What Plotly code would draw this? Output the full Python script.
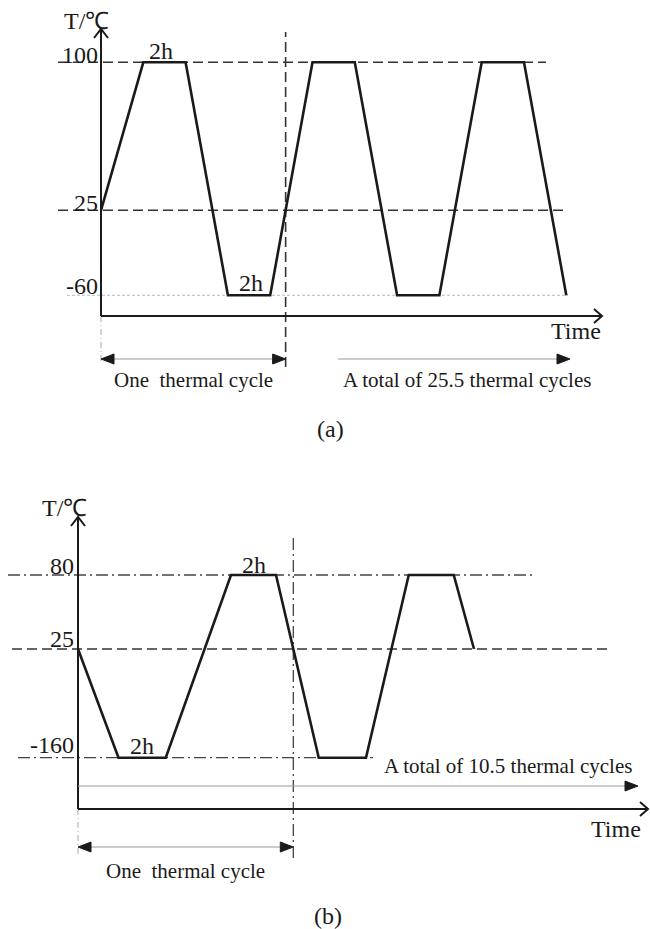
import numpy as np
import plotly.graph_objects as go

# ---------------- data ----------------
# (a) start at 25 degC, cycle between 100 and -60 degC, 2 h dwell at each extreme
time_a = [0, 2, 4, 6, 8, 10, 12, 14, 16, 18, 20, 22]            # h (schematic)
temp_a = [25, 100, 100, -60, -60, 100, 100, -60, -60, 100, 100, -60]
levels_a = [-60, 25, 100]
level_labels_a = ["-60", "25", "100"]

# (b) start at 25 degC, cycle between -160 and 80 degC, 2 h dwell at each extreme
time_b = [0, 1.8, 3.9, 6.8, 8.8, 10.7, 12.8, 14.7, 16.7, 17.6]   # h (schematic)
temp_b = [25, -160, -160, 80, 80, -160, -160, 80, 80, 25]
levels_b = [-160, 25, 80]
level_labels_b = ["-160", "25", "80"]

dwell_label = "2h"
cycle_label = "One  thermal cycle"
total_labels = ["A total of 25.5 thermal cycles", "A total of 10.5 thermal cycles"]
panel_tags = ["(a)", "(b)"]

# ---------------- page geometry ----------------
W, H = 650, 929
SERIF = "Liberation Serif, Times New Roman, serif"
INK = "#1a1a1a"


class Panel:
    """One schematic temperature-time diagram with its own pair of axes.

    The temperature axis is schematic: the labelled levels are spaced by
    `pos` (25 degC at 0, the top level at 1) rather than linearly.
    """

    def __init__(self, n, band, x0, sx, y0, sy, levels, pos):
        self.xa = "x" if n == 1 else f"x{n}"
        self.ya = "y" if n == 1 else f"y{n}"
        self.band = band          # (top px, bottom px) of the panel on the page
        self.x0, self.sx = x0, sx  # page px of t = 0, px per hour
        self.y0, self.sy = y0, sy  # page px of the 25 degC level, px per unit
        self.levels, self.pos = levels, pos

    def X(self, px):
        return (px - self.x0) / self.sx

    def Y(self, py):
        return (self.y0 - py) / self.sy

    def T(self, temp):
        return np.interp(temp, self.levels, self.pos)

    def xrange(self):
        return [self.X(0), self.X(W)]

    def yrange(self):
        return [self.Y(self.band[1]), self.Y(self.band[0])]

    def ydomain(self):
        return [1 - self.band[1] / H, 1 - self.band[0] / H]


pa = Panel(1, (0, 465), 101, 21.15, 210.3, 148, levels_a, [-0.574, 0.0, 1.0])
pb = Panel(2, (465, 929), 78, 22.5, 649, 74, levels_b, [-1.469, 0.0, 1.0])

fig = go.Figure()
annotations = []


def line(p, xs, ys, color, width, dash="solid"):
    fig.add_trace(go.Scatter(x=xs, y=ys, mode="lines", xaxis=p.xa, yaxis=p.ya,
                             line=dict(color=color, width=width, dash=dash),
                             hoverinfo="skip", showlegend=False))


def head(p, tip_px, tip_py, direction, length=13, half=5, color=INK):
    """Filled triangular arrow head, drawn in page pixels."""
    d = 1 if direction == "right" else -1
    px = [tip_px, tip_px - d * length, tip_px - d * length, tip_px]
    py = [tip_py, tip_py - half, tip_py + half, tip_py]
    fig.add_trace(go.Scatter(x=[p.X(v) for v in px], y=[p.Y(v) for v in py],
                             mode="lines", fill="toself", fillcolor=color,
                             xaxis=p.xa, yaxis=p.ya, line=dict(color=color, width=1),
                             hoverinfo="skip", showlegend=False))


def chevron(p, tip_px, tip_py, direction, a=8, b=7):
    """Open arrow tip at the end of an axis."""
    if direction == "up":
        px = [tip_px - b, tip_px, tip_px + b]
        py = [tip_py + a + 1, tip_py, tip_py + a + 1]
    else:
        px = [tip_px - a, tip_px, tip_px - a]
        py = [tip_py - b, tip_py, tip_py + b]
    line(p, [p.X(v) for v in px], [p.Y(v) for v in py], INK, 2)


def text(p, s, x, y, size=21, xanchor="center"):
    annotations.append(dict(text=s, x=x, y=y, xref=p.xa, yref=p.ya,
                            xanchor=xanchor, yanchor="middle", showarrow=False,
                            font=dict(family=SERIF, size=size, color=INK)))


def second_crossing(t, y):
    """Time at which the curve crosses 25 degC for the second time (end of one cycle)."""
    hits = []
    for i in range(len(t) - 1):
        if y[i] * y[i + 1] < 0:
            hits.append(t[i] + (0 - y[i]) / (y[i + 1] - y[i]) * (t[i + 1] - t[i]))
    return hits[1]


DASH = "10px,5px"
DASHDOT = "12px,4px,2px,4px"

# =============== panel (a) ===============
p = pa
ya = p.T(temp_a)
t_cycle = second_crossing(time_a, ya)

# reference levels
line(p, [p.X(58), p.X(546)], [p.T(100)] * 2, "#333", 1.6, DASH)
line(p, [p.X(58), p.X(568)], [p.T(25)] * 2, "#333", 1.6, DASH)
line(p, [p.X(67), p.X(568)], [p.T(-60)] * 2, "#bbbbbb", 1, "3px,2px")
# end of the first cycle
line(p, [t_cycle] * 2, [p.Y(367), p.Y(32)], "#333", 1.6, DASH)
line(p, [0, 0], [p.Y(316), p.Y(362)], "#aaaaaa", 1, "6px,3px,1px,3px")

# axes
line(p, [0, 0], [p.Y(316), p.Y(30)], INK, 2)
chevron(p, 101, 29, "up")
line(p, [0, p.X(601)], [p.Y(316)] * 2, INK, 2)
chevron(p, 602, 316, "right")

# temperature profile
line(p, time_a, ya, INK, 2.6)

# one-cycle span and total-cycles arrow
line(p, [p.X(110), t_cycle - 12 / p.sx], [p.Y(359)] * 2, "#999999", 1)
head(p, 101, 359, "left")
head(p, p.x0 + t_cycle * p.sx, 359, "right")
line(p, [p.X(338), p.X(560)], [p.Y(359)] * 2, "#999999", 1)
head(p, 570, 359, "right")

# labels
for lv, lab, cy in zip(levels_a, level_labels_a, [286, 203, 55]):
    text(p, lab, p.X(100), p.Y(cy), 24, "right")
text(p, "T/\u2103", p.X(86), p.Y(21), 24)
text(p, dwell_label, p.X(161), p.Y(51), 24)
text(p, dwell_label, p.X(251), p.Y(283), 24)
text(p, "Time", p.X(576), p.Y(331), 24)
text(p, cycle_label, (0 + t_cycle) / 2, p.Y(380), 21)
text(p, total_labels[0], p.X(467), p.Y(380), 21)
text(p, panel_tags[0], p.X(330), p.Y(429), 24)

# =============== panel (b) ===============
p = pb
yb = p.T(temp_b)
t_cycle = second_crossing(time_b, yb)

line(p, [p.X(8), p.X(533)], [p.T(80)] * 2, "#444", 1.3, DASHDOT)
line(p, [p.X(12), p.X(607)], [p.T(25)] * 2, "#333", 1.6, DASH)
line(p, [p.X(18), p.X(373)], [p.T(-160)] * 2, "#444", 1.3, DASHDOT)
line(p, [t_cycle] * 2, [p.Y(858), p.Y(538)], "#444", 1.3, DASHDOT)
line(p, [0, 0], [p.Y(809), p.Y(857)], "#aaaaaa", 1, "6px,3px,1px,3px")

line(p, [0, 0], [p.Y(809), p.Y(518)], INK, 2)
chevron(p, 78, 517, "up")
line(p, [0, p.X(647)], [p.Y(809)] * 2, INK, 2)
chevron(p, 648, 809, "right")

line(p, time_b, yb, INK, 2.6)

line(p, [0, p.X(628)], [p.Y(786)] * 2, "#999999", 1)
head(p, 638, 786, "right")
line(p, [p.X(87), t_cycle - 12 / p.sx], [p.Y(847)] * 2, "#999999", 1)
head(p, 78, 847, "left")
head(p, p.x0 + t_cycle * p.sx, 847, "right")

for lv, lab, cy in zip(levels_b, level_labels_b, [745, 639, 566]):
    text(p, lab, p.X(76), p.Y(cy), 24, "right")
text(p, "T/\u2103", p.X(64), p.Y(508), 24)
text(p, dwell_label, p.X(142), p.Y(746), 24)
text(p, dwell_label, p.X(254), p.Y(565), 24)
text(p, total_labels[1], p.X(508), p.Y(766), 21)
text(p, "Time", p.X(616), p.Y(829), 24)
text(p, cycle_label, (0 + t_cycle) / 2, p.Y(871), 21)
text(p, panel_tags[1], p.X(328), p.Y(916), 24)

# =============== layout ===============
hidden = dict(visible=False, showgrid=False, zeroline=False, fixedrange=True)
fig.update_layout(
    width=W, height=H,
    margin=dict(l=0, r=0, t=0, b=0),
    paper_bgcolor="white", plot_bgcolor="white",
    showlegend=False,
    annotations=annotations,
    xaxis=dict(hidden, domain=[0, 1], range=pa.xrange(), anchor="y"),
    yaxis=dict(hidden, domain=pa.ydomain(), range=pa.yrange(), anchor="x"),
    xaxis2=dict(hidden, domain=[0, 1], range=pb.xrange(), anchor="y2"),
    yaxis2=dict(hidden, domain=pb.ydomain(), range=pb.yrange(), anchor="x2"),
)

fig.write_html("out.html")
